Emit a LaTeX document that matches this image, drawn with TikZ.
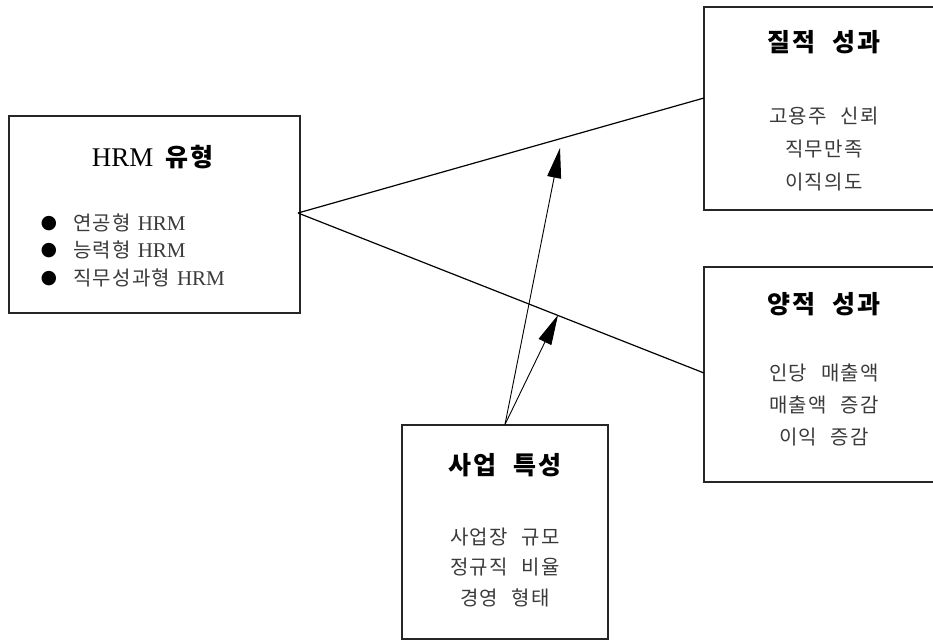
\documentclass[tikz,border=0pt]{standalone}
\usepackage{fontspec}
\setmainfont{Liberation Serif}
\newfontfamily\kr[WordSpace=2.4,LetterSpace=6]{Noto Sans CJK KR}
\newfontfamily\dv{DejaVu Sans}
\usetikzlibrary{arrows.meta}
\definecolor{bodygray}{HTML}{3A3A3A}
\begin{document}
\begin{tikzpicture}[x=1pt,y=-1pt,
  box/.style={draw=black!85,line width=1.1pt,rectangle,inner sep=0pt},
  ttl/.style={font=\kr\fontsize{25}{29}\selectfont\bfseries,inner sep=0pt,anchor=center},
  bodytxt/.style={font=\kr\fontsize{20}{24}\selectfont,text=bodygray,inner sep=0pt,anchor=center},
  item/.style={font=\fontsize{21}{24}\selectfont,text=bodygray,inner sep=0pt,anchor=west},
  bul/.style={font=\dv\fontsize{19}{22}\selectfont,text=black,inner sep=0pt,anchor=center},
  link/.style={line width=1.2pt,black},
  infl/.style={line width=0.9pt,black,-{Triangle[length=30pt,width=14pt]}}]
\useasboundingbox (0,0) rectangle (933,642);
\clip (0,0) rectangle (933,642);
% boxes
\node[box,minimum width=291pt,minimum height=197pt] (hrm) at (154.5,214.5) {};
\node[box,minimum width=240pt,minimum height=203pt] (qual) at (824,108.5) {};
\node[box,minimum width=240pt,minimum height=215pt] (quant) at (824,374.5) {};
\node[box,minimum width=206pt,minimum height=214pt] (biz) at (505,532) {};
% HRM box text
\node[ttl,font=\fontsize{27}{30}\selectfont] (hrmt) at (152.5,157) {HRM\hspace{12pt}{\kr\fontsize{25}{29}\selectfont\bfseries 유형}};
\node[bul] (d1) at (49,224) {●};
\node[bul] (d2) at (49,251) {●};
\node[bul] (d3) at (49,279) {●};
\node[item] (h1) at (73,223) {{\kr\fontsize{20}{24}\selectfont 연공형}\hspace{7pt}HRM};
\node[item] (h2) at (73,250) {{\kr\fontsize{20}{24}\selectfont 능력형}\hspace{7pt}HRM};
\node[item] (h3) at (73,278) {{\kr\fontsize{20}{24}\selectfont 직무성과형}\hspace{7pt}HRM};
% qualitative
\node[ttl] (qt) at (824,42) {질적 성과};
\node[bodytxt] (q1) at (824,116) {고용주 신뢰};
\node[bodytxt] (q2) at (824,149) {직무만족};
\node[bodytxt] (q3) at (824,182) {이직의도};
% quantitative
\node[ttl] (nt) at (824,304) {양적 성과};
\node[bodytxt] (n1) at (824,373) {인당 매출액};
\node[bodytxt] (n2) at (824,405) {매출액 증감};
\node[bodytxt] (n3) at (824,437) {이익 증감};
% business
\node[ttl] (bt) at (505,465) {사업 특성};
\node[bodytxt] (b1) at (505,537) {사업장 규모};
\node[bodytxt] (b2) at (505,567) {정규직 비율};
\node[bodytxt] (b3) at (505,598) {경영 형태};
% connectors
\coordinate (apex) at (298,213);
\coordinate (qin) at (704,98);
\coordinate (nin) at (704,373);
\draw[link] (apex) -- (qin);
\draw[link] (apex) -- (nin);
\coordinate (tip1) at (560,148);
\coordinate (tip2) at (558,315);
\draw[infl] (biz.north) -- (tip1);
\draw[infl] (biz.north) -- (tip2);
\end{tikzpicture}
\end{document}
